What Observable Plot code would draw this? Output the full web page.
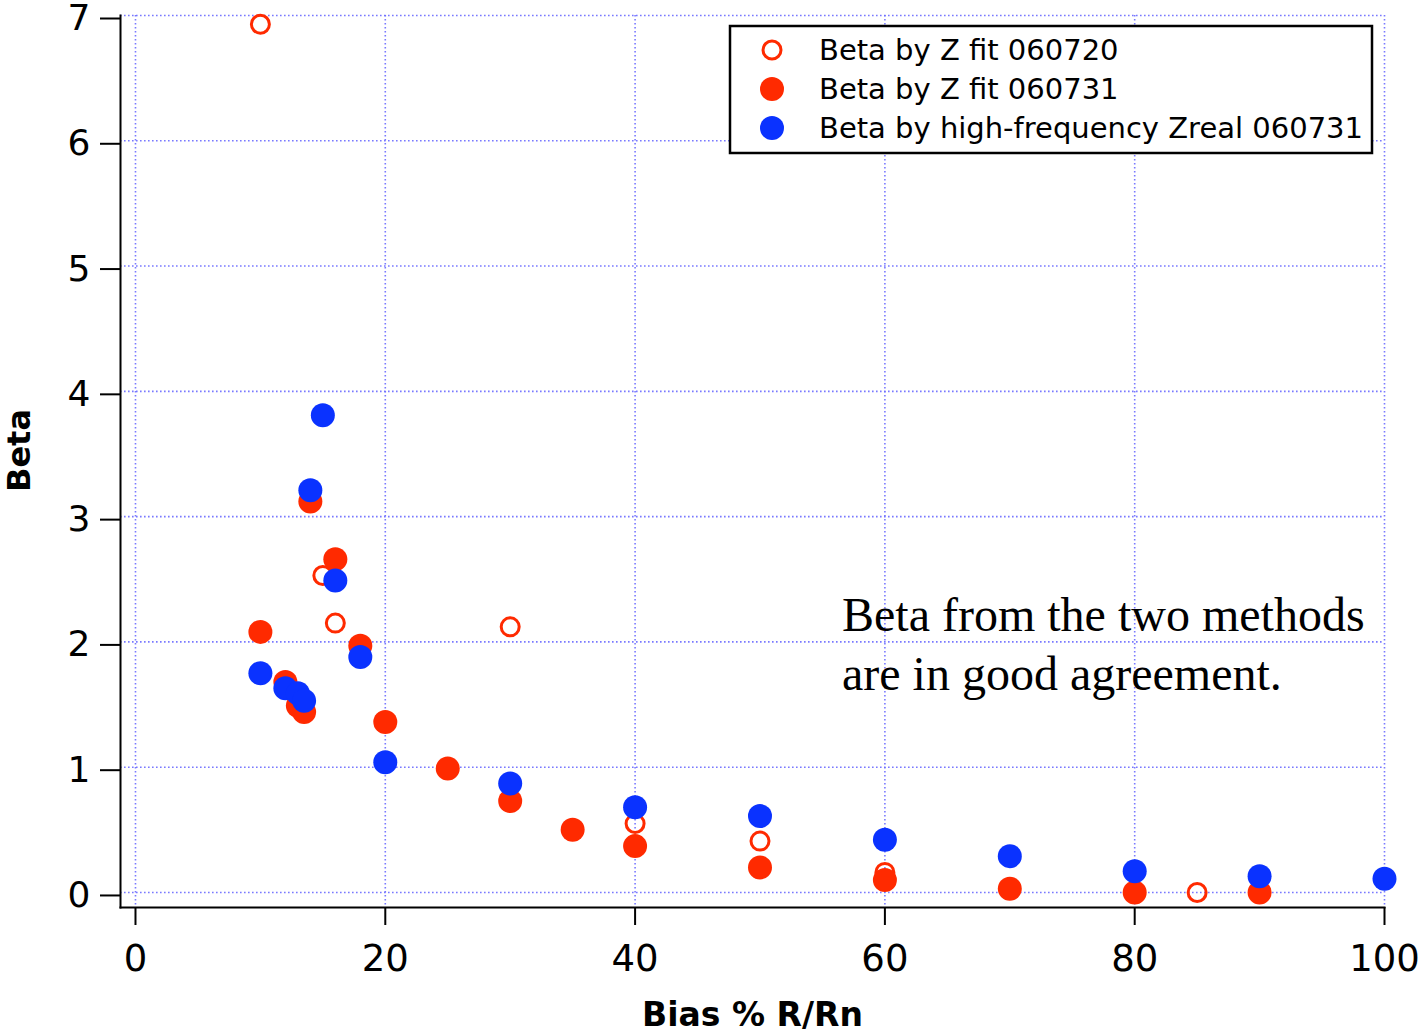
<!DOCTYPE html>
<html>
<head>
<meta charset="utf-8">
<script src="https://cdn.jsdelivr.net/npm/d3@7"></script>
<script src="https://cdn.jsdelivr.net/npm/@observablehq/plot@0.6"></script>
<style>
  html, body { margin: 0; padding: 0; background: #fff; }
  #chart { position: relative; width: 1421px; height: 1034px; }
  svg { font-family: "DejaVu Sans", sans-serif; }
</style>
</head>
<body>
<div id="chart"></div>
<script>
// ---- data ----
const xDomain = [-1.2, 100];
const yDomain = [-0.12, 7];
const xTicks = [0, 20, 40, 60, 80, 100];
const yTicks = [0, 1, 2, 3, 4, 5, 6, 7];

const seriesNames = ["Beta by Z fit 060720", "Beta by Z fit 060731", "Beta by high-frequency Zreal 060731"];
const seriesColors = ["#ff2a00", "#ff2a00", "#0a32ff"];

// Beta by Z fit 060720 (open red)
const openX = [10, 15, 16, 30, 40, 50, 60, 85];
const openY = [6.93, 2.53, 2.15, 2.12, 0.55, 0.41, 0.16, 0.00];

// Beta by Z fit 060731 (filled red)
const redX = [10, 12, 13, 13.5, 14, 16, 18, 20, 25, 30, 35, 40, 50, 60, 70, 80, 90];
const redY = [2.08, 1.68, 1.49, 1.44, 3.12, 2.66, 1.97, 1.36, 0.99, 0.73, 0.50, 0.37, 0.20, 0.10, 0.03, 0.00, 0.00];

// Beta by high-frequency Zreal 060731 (filled blue)
const blueX = [10, 12, 13, 13.5, 14, 15, 16, 18, 20, 30, 40, 50, 60, 70, 80, 90, 100];
const blueY = [1.75, 1.63, 1.59, 1.53, 3.21, 3.81, 2.49, 1.88, 1.04, 0.87, 0.68, 0.61, 0.42, 0.29, 0.17, 0.13, 0.11];

const xLabel = "Bias % R/Rn";
const yLabel = "Beta";
const noteLines = ["Beta from the two methods", "are in good agreement."];

const zip = (xs, ys) => xs.map((x, i) => ({x, y: ys[i]}));
const openData = zip(openX, openY);
const redData = zip(redX, redY);
const blueData = zip(blueX, blueY);

const gridStyle = {stroke: "#6a6aff", strokeOpacity: 0.9, strokeWidth: 1.6, strokeDasharray: "1.6,2.4"};

const plot = Plot.plot({
  width: 1421,
  height: 1034,
  marginLeft: 120,
  marginRight: 37,
  marginTop: 15,
  marginBottom: 127,
  x: {domain: xDomain},
  y: {domain: yDomain},
  style: {fontFamily: "DejaVu Sans, sans-serif", color: "#000", background: "#fff"},
  marks: [
    Plot.gridX(xTicks, gridStyle),
    Plot.gridY(yTicks, gridStyle),
    Plot.axisX(xTicks, {tickSize: 18, tickPadding: 19, fontSize: 37, strokeWidth: 2, label: null, tickFormat: d => String(d)}),
    Plot.axisY(yTicks, {tickSize: 20, tickPadding: 10, fontSize: 36, strokeWidth: 2, label: null, dy: 3, tickFormat: d => String(d)}),
    Plot.frame({anchor: "left", strokeWidth: 2}),
    Plot.frame({anchor: "bottom", strokeWidth: 2}),
    Plot.text([xLabel], {frameAnchor: "bottom", textAnchor: "middle", lineAnchor: "middle", dy: 108, text: d => d, fontSize: 33, fontWeight: "bold"}),
    Plot.text([yLabel], {frameAnchor: "left", textAnchor: "middle", lineAnchor: "middle", dx: -101, dy: -11, rotate: -90, text: d => d, fontSize: 32, fontWeight: "bold"}),
    Plot.dot(openData, {x: "x", y: "y", r: 9, stroke: seriesColors[0], strokeWidth: 3, fill: "none"}),
    Plot.dot(redData, {x: "x", y: "y", r: 12, fill: seriesColors[1], stroke: "none"}),
    Plot.dot(blueData, {x: "x", y: "y", r: 12, fill: seriesColors[2], stroke: "none"})
  ]
});
document.getElementById("chart").appendChild(plot);

// ---- legend & annotation (overlay in the svg) ----
const svg = d3.select(plot);
const lg = svg.append("g").attr("class", "legend").attr("text-anchor", "start");
lg.append("rect").attr("x", 730).attr("y", 26).attr("width", 642).attr("height", 127)
  .attr("fill", "#fff").attr("stroke", "#000").attr("stroke-width", 2.5);
const rowY = [50, 89, 128];
seriesNames.forEach((name, i) => {
  const g = lg.append("g").attr("transform", `translate(0,${rowY[i]})`);
  if (i === 0) {
    g.append("circle").attr("cx", 772).attr("cy", 0).attr("r", 9)
      .attr("fill", "none").attr("stroke", seriesColors[i]).attr("stroke-width", 3);
  } else {
    g.append("circle").attr("cx", 772).attr("cy", 0).attr("r", 12).attr("fill", seriesColors[i]);
  }
  g.append("text").attr("x", 819).attr("y", 0).attr("dy", "0.36em")
    .attr("text-anchor", "start")
    .attr("font-family", "DejaVu Sans, sans-serif").attr("font-size", 29)
    .attr("fill", "#000").text(name);
});
const note = svg.append("g").attr("class", "note").attr("text-anchor", "start");
noteLines.forEach((line, i) => {
  note.append("text").attr("x", 842).attr("y", 631 + i * 59)
    .attr("text-anchor", "start")
    .attr("font-family", "Liberation Serif, Times New Roman, serif")
    .attr("font-size", 48).attr("fill", "#000").text(line);
});
</script>
</body>
</html>
